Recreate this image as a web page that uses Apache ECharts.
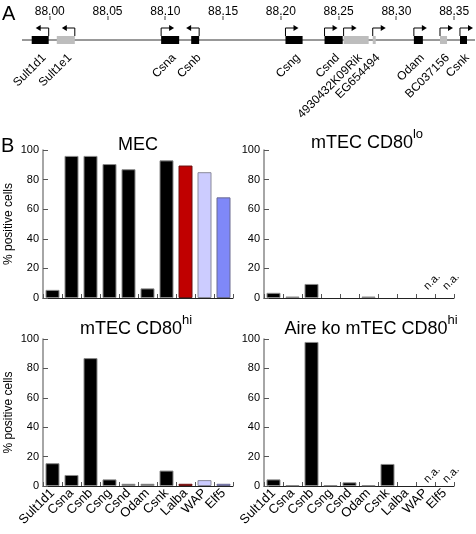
<!DOCTYPE html>
<html><head><meta charset="utf-8">
<script src="https://cdn.jsdelivr.net/npm/echarts@6/dist/echarts.min.js"></script>
<style>html,body{margin:0;padding:0;background:#fff}#c{width:476px;height:534px}</style>
</head><body><div id="c"></div>
<script>
// ---------- Panel A: genomic map (Mb) ----------
const genomeTicks = [88.00, 88.05, 88.10, 88.15, 88.20, 88.25, 88.30, 88.35];
const genomeRange = [87.976, 88.368];
const geneNames  = ['Sult1d1','Sult1e1','Csna','Csnb','Csng','Csnd','4930432K09Rik','EG654494','Odam','BC037156','Csnk'];
const geneStarts = [87.9844, 88.0061, 88.0964, 88.1224, 88.2040, 88.2378, 88.2543, 88.2795, 88.3151, 88.3377, 88.3550];
const geneEnds   = [87.9991, 88.0217, 88.1120, 88.1293, 88.2188, 88.2535, 88.2760, 88.2821, 88.3229, 88.3438, 88.3611];
const geneStrands = [-1, -1, 1, -1, 1, 1, 1, 1, 1, 1, 1];
const geneKinds  = ['studied','other','studied','studied','studied','studied','other','other','studied','other','studied'];

// ---------- Panel B: % positive cells ----------
const categories   = ['Sult1d1','Csna','Csnb','Csng','Csnd','Odam','Csnk','Lalba','WAP','Elf5'];
const mecValues    = [5.5, 96, 96, 90.5, 87, 6.5, 93, 89.5, 85, 68];
const cd80loValues = [3.5, 1, 9.5, 0, 0, 1, 0, 0, null, null];
const cd80hiValues = [15.5, 7.5, 87, 4.5, 1.5, 1.5, 10.5, 1.5, 4, 1.5];
const aireKoValues = [4.5, 0.5, 98, 0.5, 2.5, 0.5, 15, 0, null, null];
const yTicks = [0, 20, 40, 60, 80, 100];

const FONT = 'Liberation Sans';
const barColors = {
  default: {fill:'#000000', border:'#8a8a8a'},
  Lalba:   {fill:'#c00000', border:'#6a1010'},
  WAP:     {fill:'#ccccff', border:'#8a8a9a'},
  Elf5:    {fill:'#7f88f8', border:'#6a6a90'}
};

const panels = [
  {title:'MEC', sup:'', values:mecValues, grid:{left:43, top:150, width:190, height:148}, yName:true, xLabels:false, tx:138, ty:145, naDist:10},
  {title:'mTEC CD80', sup:'lo', values:cd80loValues, grid:{left:264, top:150, width:190, height:148}, yName:false, xLabels:false, tx:367, ty:143, naDist:10},
  {title:'mTEC CD80', sup:'hi', values:cd80hiValues, grid:{left:43, top:339, width:190, height:147}, yName:true, xLabels:true, tx:136, ty:329, naDist:5},
  {title:'Aire ko mTEC CD80', sup:'hi', values:aireKoValues, grid:{left:264, top:339, width:190, height:147}, yName:false, xLabels:true, tx:371, ty:329, naDist:5}
];

const grids = [{left:22, top:21, width:453, height:38, outerBoundsMode:'none'}];
const xAxes = [{
  type:'value', gridIndex:0, position:'top', min:genomeRange[0], max:genomeRange[1],
  axisLine:{show:false, onZero:false}, splitLine:{show:false}, axisTick:{show:false},
  axisLabel:{show:true, customValues:genomeTicks, formatter:v=>v.toFixed(2), fontSize:12, fontFamily:FONT, color:'#000', margin:3}
}];
const yAxes = [{type:'value', gridIndex:0, min:0, max:1, show:false}];
const series = [
  {type:'line', xAxisIndex:0, yAxisIndex:0, data:[[genomeRange[0],0.5],[genomeRange[1],0.5]],
   symbol:'none', lineStyle:{color:'#333', width:1}, silent:true, z:1},
  // scale ticks of the genomic axis, placed through the axis scale
  {type:'custom', xAxisIndex:0, yAxisIndex:0, clip:false, z:3,
   encode:{x:0, y:1},
   data: genomeTicks.map(v=>[v, 1]),
   renderItem:function(params, api){
     const p = api.coord([api.value(0), api.value(1)]);
     return {type:'rect', shape:{x:Math.round(p[0])-0.5, y:p[1]-5, width:1, height:4}, style:{fill:'#444'}};
   }},
  {type:'custom', xAxisIndex:0, yAxisIndex:0, clip:false, z:2,
   encode:{x:[0,1]},
   data: geneNames.map((n,i)=>[geneStarts[i], geneEnds[i], geneStrands[i], geneKinds[i]==='studied'?1:0]),
   renderItem:function(params, api){
     const s = api.coord([api.value(0), 0.5]);
     const e = api.coord([api.value(1), 0.5]);
     const strand = api.value(2);
     const fill = api.value(3)===1 ? '#000' : '#bdbdbd';
     const y = s[1];
     const ay = y - 12;
     const ch = [{type:'rect', shape:{x:s[0], y:y-4, width:Math.max(e[0]-s[0],2), height:8}, style:{fill:fill}}];
     if (strand > 0) {
       const x0 = s[0];
       ch.push({type:'polyline', shape:{points:[[x0,y-4],[x0,ay],[x0+9,ay]]}, style:{stroke:'#000', lineWidth:1, fill:null}});
       ch.push({type:'polygon', shape:{points:[[x0+8,ay-3],[x0+13,ay],[x0+8,ay+3]]}, style:{fill:'#000'}});
     } else {
       const x0 = e[0];
       ch.push({type:'polyline', shape:{points:[[x0,y-4],[x0,ay],[x0-9,ay]]}, style:{stroke:'#000', lineWidth:1, fill:null}});
       ch.push({type:'polygon', shape:{points:[[x0-8,ay-3],[x0-13,ay],[x0-8,ay+3]]}, style:{fill:'#000'}});
     }
     ch.push({type:'text', x:(s[0]+e[0])/2+4, y:y+16, rotation:Math.PI/4,
       style:{text:geneNames[params.dataIndex], align:'right', verticalAlign:'middle', fontSize:12, fontFamily:FONT, fill:'#000'}});
     return {type:'group', children:ch};
   }}
];

const graphics = [
  {type:'text', x:2, y:14, style:{text:'A', fontSize:20, fontFamily:FONT, fill:'#000', verticalAlign:'middle'}},
  {type:'text', x:1, y:146, style:{text:'B', fontSize:20, fontFamily:FONT, fill:'#000', verticalAlign:'middle'}}
];

function barData(vals, naDist){
  return vals.map((v,i)=>{
    const c = barColors[categories[i]] || barColors.default;
    if (v === null) {
      return {value:0, itemStyle:{color:'rgba(0,0,0,0)', borderWidth:0},
        label:{show:true, formatter:'n.a.', position:'top', distance:naDist, rotate:45, align:'left', verticalAlign:'middle', fontSize:11, fontFamily:FONT, color:'#000'}};
    }
    return {value:v, itemStyle:{color:c.fill, borderColor:c.border, borderWidth: v === 0 ? 0 : 1}};
  });
}

panels.forEach((p, k)=>{
  const gi = k + 1;
  grids.push(Object.assign({outerBoundsMode:'none'}, p.grid));
  xAxes.push({
    type:'category', gridIndex:gi, data:categories,
    axisLine:{show:true, lineStyle:{color:'#222', width:1}},
    axisTick:{show:true, inside:true, length:4, lineStyle:{color:'#555'}},
    axisLabel:{show:p.xLabels, rotate:45, fontSize:13, fontFamily:FONT, color:'#000', margin:5, interval:0}
  });
  yAxes.push({
    type:'value', gridIndex:gi, min:0, max:100, interval:20,
    name: p.yName ? '% positive cells' : '', nameLocation:'middle', nameGap:28,
    nameTextStyle:{fontSize:12, fontFamily:FONT, color:'#000'},
    axisLine:{show:true, lineStyle:{color:'#888', width:1.5}},
    axisTick:{show:true, inside:true, length:5, lineStyle:{color:'#555'}},
    axisLabel:{fontSize:11, fontFamily:FONT, color:'#000', margin:4, customValues:yTicks},
    splitLine:{show:false}
  });
  series.push({type:'bar', xAxisIndex:gi, yAxisIndex:gi, barWidth:14, data:barData(p.values, p.naDist)});
  graphics.push({type:'text', x:p.tx, y:p.ty, style:{
    text: p.sup ? p.title + '{sup|' + p.sup + '}' : p.title,
    fontSize:18, fontFamily:FONT, fill:'#000', align:'center', verticalAlign:'middle',
    rich:{sup:{fontSize:13, fontFamily:FONT, fill:'#000', padding:[0,0,18,0]}}
  }});
});

const chart = echarts.init(document.getElementById('c'), null, {renderer:'canvas'});
chart.setOption({
  animation:false, backgroundColor:'#fff',
  grid:grids, xAxis:xAxes, yAxis:yAxes, series:series, graphic:graphics
});
</script></body></html>
